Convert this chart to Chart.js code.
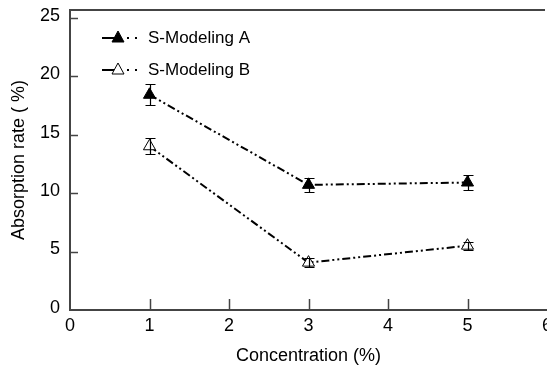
<!DOCTYPE html>
<html>
<head>
<meta charset="utf-8">
<script src="https://cdn.jsdelivr.net/npm/chart.js@4"></script>
<style>
 html,body{margin:0;padding:0;background:#fff;overflow:hidden;}
 #wrap{width:547px;height:367px;position:relative;}
</style>
</head>
<body>
<div id="wrap"><canvas id="c"></canvas></div>
<script>
const concentration=[1,3,5];
const modelA=[18.4,10.7,10.9];
const modelAErr=[0.9,0.6,0.6];
const modelB=[14.0,4.05,5.5];
const modelBErr=[0.7,0.4,0.35];
const seriesNames=['S-Modeling A','S-Modeling B'];
const yTicks=[0,5,10,15,20,25];
const xTicks=[0,1,2,3,4,5,6];

const FONT='"Liberation Sans", Arial, sans-serif';
const DASH=[8,3,2,3,2,3];
const AXIS='#444';

const pts=(xs,ys)=>xs.map((x,i)=>({x,y:ys[i]}));

// error bars + inward ticks + top frame + legend
const extras={
 id:'extras',
 afterDatasetsDraw(chart){
   const {ctx,chartArea:a,scales:{x,y}}=chart;
   ctx.save();
   ctx.strokeStyle='#000';ctx.lineWidth=1.2;
   [[modelA,modelAErr],[modelB,modelBErr]].forEach(([vals,errs])=>{
     vals.forEach((v,i)=>{
       const px=Math.round(x.getPixelForValue(concentration[i]))+0.5;
       const t=Math.round(y.getPixelForValue(v+errs[i]))+0.5;
       const b=Math.round(y.getPixelForValue(v-errs[i]))+0.5;
       ctx.beginPath();
       ctx.moveTo(px,t);ctx.lineTo(px,b);
       ctx.moveTo(px-5,t);ctx.lineTo(px+5,t);
       ctx.moveTo(px-5,b);ctx.lineTo(px+5,b);
       ctx.stroke();
     });
   });
   // inward tick marks
   ctx.strokeStyle=AXIS;ctx.lineWidth=1.5;
   ctx.beginPath();
   yTicks.forEach(v=>{
     if(v===0)return;
     const py=Math.round(y.getPixelForValue(v))+0.5;
     ctx.moveTo(a.left,py);ctx.lineTo(a.left+8,py);
   });
   xTicks.forEach(v=>{
     if(v===0||v===6)return;
     const px=Math.round(x.getPixelForValue(v))+0.5;
     ctx.moveTo(px,a.bottom);ctx.lineTo(px,a.bottom-11);
   });
   ctx.stroke();
   // top frame line
   ctx.lineWidth=2;
   ctx.beginPath();ctx.moveTo(a.left,a.top);ctx.lineTo(545,a.top);ctx.stroke();
   // legend
   ctx.font='17px '+FONT;ctx.textBaseline='middle';
   chart.data.datasets.forEach((ds,i)=>{
     const ly=38+i*32, lx=102;
     ctx.strokeStyle='#000';ctx.lineWidth=2;
     ctx.beginPath();ctx.moveTo(lx,ly);ctx.lineTo(lx+16,ly);ctx.stroke();
     ctx.fillStyle='#000';
     [lx+25,lx+33].forEach(dx=>ctx.fillRect(dx,ly-1,2,2));
     ctx.fillStyle=ds.pointBackgroundColor;ctx.lineWidth=1;
     ctx.beginPath();
     ctx.moveTo(lx+16,ly-7);ctx.lineTo(lx+22,ly+4);ctx.lineTo(lx+10,ly+4);ctx.closePath();
     ctx.fill();ctx.stroke();
     ctx.fillStyle='#000';
     ctx.fillText(ds.label,lx+46,ly);
   });
   ctx.restore();
 }
};

new Chart(document.getElementById('c'),{
 type:'line',
 data:{datasets:[
   {label:seriesNames[0],data:pts(concentration,modelA),borderColor:'#000',borderWidth:2,borderDash:DASH,
    pointStyle:'triangle',pointRadius:7,pointBackgroundColor:'#000',pointBorderColor:'#000',pointBorderWidth:1},
   {label:seriesNames[1],data:pts(concentration,modelB),borderColor:'#000',borderWidth:2,borderDash:DASH,
    pointStyle:'triangle',pointRadius:7,pointBackgroundColor:'#fff',pointBorderColor:'#000',pointBorderWidth:1}
 ]},
 options:{
   responsive:true,maintainAspectRatio:false,animation:false,
   layout:{autoPadding:false,padding:{top:10,right:0,left:0,bottom:0}},
   plugins:{legend:{display:false},tooltip:{enabled:false}},
   scales:{
     x:{type:'linear',min:0,max:6,
       afterBuildTicks:s=>{s.ticks=xTicks.map(v=>({value:v}));},
       afterFit:s=>{s.height=57;s.paddingRight=0;s.paddingLeft=0;},
       grid:{display:false,drawTicks:false},
       border:{display:true,color:AXIS,width:2},
       ticks:{color:'#000',font:{family:FONT,size:18},padding:5,maxRotation:0},
       title:{display:true,text:'Concentration (%)',color:'#000',font:{family:FONT,size:18},padding:{top:4,bottom:0}}},
     y:{type:'linear',min:0,max:25.65,
       afterBuildTicks:s=>{s.ticks=yTicks.map(v=>({value:v}));},
       afterFit:s=>{s.width=70;s.paddingTop=0;s.paddingBottom=0;},
       grid:{display:false,drawTicks:false},
       border:{display:true,color:AXIS,width:2},
       ticks:{color:'#000',font:{family:FONT,size:18},padding:10,labelOffset:-2},
       title:{display:true,text:'Absorption rate ( %)',color:'#000',font:{family:FONT,size:18},padding:{top:8,bottom:4}}}
   }
 },
 plugins:[extras]
});
</script>
</body>
</html>
